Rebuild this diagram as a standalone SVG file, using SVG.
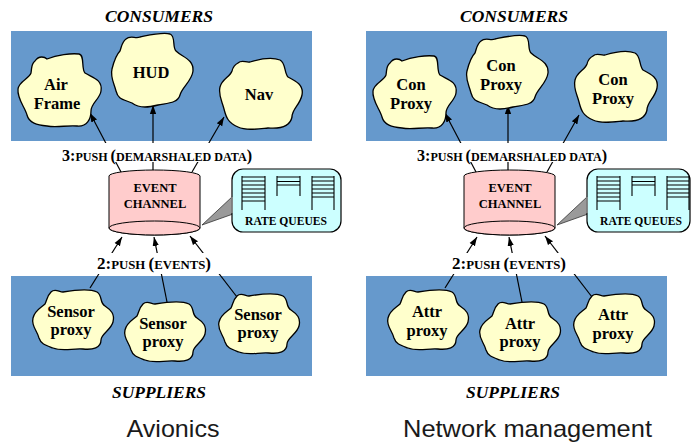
<svg xmlns="http://www.w3.org/2000/svg" xmlns:xlink="http://www.w3.org/1999/xlink" width="691" height="445" viewBox="0 0 691 445">
  <style>
    .panel { fill: #6699CC; }
    .cloud { fill: #FFFFCC; stroke: #000; stroke-width: 1.3; }
    .node-text { font-family: "Liberation Serif", "Times New Roman", serif; font-weight: bold; font-size: 16.5px; text-anchor: middle; fill: #000; }
    .title { font-family: "Liberation Serif", "Times New Roman", serif; font-weight: bold; font-style: italic; font-size: 16px; text-anchor: middle; fill: #000; }
    .small { font-family: "Liberation Serif", "Times New Roman", serif; font-weight: bold; text-anchor: middle; fill: #000; }
    .caption { font-family: "Liberation Sans", Arial, sans-serif; font-size: 24px; text-anchor: middle; fill: #1a1a1a; }
    .chan { fill: #FFCCCC; stroke: #000; stroke-width: 1; }
    .qbox { fill: #CCFFFF; stroke: #000; stroke-width: 1.2; }
    .tail { fill: #9a9a9a; stroke: #333; stroke-width: 0.8; }
    .ladder { fill: none; stroke: #000; stroke-width: 1.1; }
    .conn { fill: none; stroke: #000; stroke-width: 1.2; }
    .lblbg { fill: #fff; }
  </style>
  <defs>
    <marker id="ah" viewBox="0 0 10 10" refX="10" refY="5" markerWidth="9" markerHeight="9" markerUnits="userSpaceOnUse" orient="auto">
      <path d="M0,1.5 L10,5 L0,8.5 Z" fill="#000"/>
    </marker>
    <!-- blob outlines, drawn in local coordinates -->
    <path id="cloudA" class="cloud" d="M18,8 C22,2 28,4 30,6 C40,2 54,0 62,1 C68,2 64,16 68,20 C74,24 86,26 84,38 C83,46 74,50 74,58 C74,66 70,74 60,73 C50,72 40,75 30,73 C20,72 12,70 10,62 C8,54 0,46 1,36 C2,28 12,26 14,20 C15,14 14,11 18,8 Z"/>
    <path id="cloudB" class="cloud" d="M16,6 C20,2 26,6 30,4 C40,2 52,-1 60,1 C66,3 62,14 66,18 C72,24 84,26 83,38 C82,48 72,54 70,62 C68,70 58,70 48,72 C40,74 30,76 22,70 C12,66 8,66 6,58 C4,50 0,44 2,36 C4,28 6,22 10,18 C12,12 12,9 16,6 Z"/>
    <path id="cloudC" class="cloud" d="M20,6 C24,2 28,6 32,5 C42,2 54,0 62,3 C68,6 66,16 70,20 C78,24 86,28 84,38 C82,48 74,52 74,60 C72,70 62,72 50,71 C40,72 28,74 20,70 C10,66 8,60 6,52 C4,44 0,38 2,30 C4,22 12,20 14,14 C15,10 16,8 20,6 Z"/>
    <path id="cloudS" class="cloud" d="M20,4 C24,0 28,4 32,4 C44,2 58,0 66,4 C72,8 68,14 74,18 C80,22 84,26 82,34 C80,42 70,46 70,52 C70,60 62,62 52,61 C42,60 32,64 22,60 C14,57 10,56 8,50 C6,42 0,38 2,30 C4,22 10,20 14,16 C16,12 16,8 20,4 Z"/>
    <!-- event channel cylinder -->
    <g id="cyl">
      <path class="chan" d="M109,176 A45.5,6 0 0 1 200,176 L200,228 A45.5,7 0 0 1 109,228 Z"/>
      <ellipse class="chan" cx="154.5" cy="228" rx="45.5" ry="7"/>
    </g>
    <!-- three queue ladders -->
    <g id="ladders" class="ladder">
      <path d="M242,176 V210 M265,176 V210 M242,177 H265 M242,181 H265 M242,185 H265 M242,189 H265 M242,193 H265 M242,197 H265 M242,201 H265"/>
      <path d="M277,176 V196 M300,176 V196 M277,177 H300 M277,181.5 H300 M277,185 H300"/>
      <path d="M312,176 V210 M334,176 V210 M312,177 H334 M312,181 H334 M312,185 H334 M312,189 H334 M312,193 H334 M312,197 H334"/>
    </g>
  </defs>

  <!-- ===== left: Avionics ===== -->
  <g id="avionics">
    <text class="title" x="159" y="22" textLength="108" lengthAdjust="spacingAndGlyphs">CONSUMERS</text>
    <rect class="panel" x="11" y="31" width="301" height="110"/>
    <rect class="panel" x="11" y="276" width="301" height="100"/>
    <text class="title" x="159" y="398" textLength="94" lengthAdjust="spacingAndGlyphs">SUPPLIERS</text>
    <text class="caption" x="173" y="437" textLength="93" lengthAdjust="spacingAndGlyphs">Avionics</text>
  </g>

  <g id="connectors-avionics">
    <line class="conn" x1="121" y1="172" x2="90" y2="113" marker-end="url(#ah)"/>
    <line class="conn" x1="153" y1="170" x2="153" y2="105" marker-end="url(#ah)"/>
    <line class="conn" x1="192" y1="172" x2="224" y2="117" marker-end="url(#ah)"/>
    <line class="conn" x1="90" y1="288" x2="122" y2="237" marker-end="url(#ah)"/>
    <line class="conn" x1="167" y1="302" x2="154" y2="237" marker-end="url(#ah)"/>
    <line class="conn" x1="237" y1="297" x2="190" y2="236" marker-end="url(#ah)"/>
    <rect class="lblbg" x="60" y="143" width="194" height="19"/>
    <text class="small" x="157" y="160.5" textLength="190" lengthAdjust="spacingAndGlyphs"><tspan font-size="16">3:</tspan><tspan font-size="12">PUSH </tspan><tspan font-size="16">(</tspan><tspan font-size="12">DEMARSHALED DATA</tspan><tspan font-size="16">)</tspan></text>
    <rect class="lblbg" x="93" y="253" width="130" height="21"/>
    <text class="small" x="154" y="268.5" textLength="114" lengthAdjust="spacingAndGlyphs"><tspan font-size="16">2:</tspan><tspan font-size="12">PUSH </tspan><tspan font-size="16">(</tspan><tspan font-size="12">EVENTS</tspan><tspan font-size="16">)</tspan></text>
  </g>

  <g id="airframe">
    <use xlink:href="#cloudA" transform="translate(17,53)"/>
    <text class="node-text" x="56" y="90">Air</text>
    <text class="node-text" x="57" y="109">Frame</text>
  </g>
  <g id="hud">
    <use xlink:href="#cloudB" transform="translate(110,33)"/>
    <text class="node-text" x="151" y="78">HUD</text>
  </g>
  <g id="nav">
    <use xlink:href="#cloudC" transform="translate(218,57)"/>
    <text class="node-text" x="259" y="100">Nav</text>
  </g>

  <g id="event-channel-1">
    <use xlink:href="#cyl"/>
    <text class="small" font-size="12.5" x="155" y="192">EVENT</text>
    <text class="small" font-size="12.5" x="155" y="208">CHANNEL</text>
  </g>
  <g id="rate-queues-1">
    <polygon class="tail" points="233,196 202,225 233,214"/>
    <rect class="qbox" x="232" y="169" width="109" height="63" rx="11"/>
    <line x1="232" y1="197" x2="232" y2="213" stroke="#9a9a9a" stroke-width="1.4"/>
    <use xlink:href="#ladders"/>
    <text class="small" font-size="12.5" x="286" y="225" textLength="82" lengthAdjust="spacingAndGlyphs">RATE QUEUES</text>
  </g>

  <g id="sensor-1">
    <use xlink:href="#cloudS" transform="translate(31,288)"/>
    <text class="node-text" x="71" y="317">Sensor</text>
    <text class="node-text" x="71" y="335">proxy</text>
  </g>
  <g id="sensor-2">
    <use xlink:href="#cloudS" transform="translate(123,300)"/>
    <text class="node-text" x="163" y="329">Sensor</text>
    <text class="node-text" x="163" y="347">proxy</text>
  </g>
  <g id="sensor-3">
    <use xlink:href="#cloudS" transform="translate(217,292)"/>
    <text class="node-text" x="258" y="320">Sensor</text>
    <text class="node-text" x="258" y="338">proxy</text>
  </g>

  <!-- ===== right: Network management ===== -->
  <g id="network">
    <text class="title" x="514" y="22" textLength="108" lengthAdjust="spacingAndGlyphs">CONSUMERS</text>
    <rect class="panel" x="366" y="31" width="301" height="110"/>
    <rect class="panel" x="366" y="276" width="301" height="100"/>
    <text class="title" x="513" y="398" textLength="94" lengthAdjust="spacingAndGlyphs">SUPPLIERS</text>
    <text class="caption" x="527.5" y="437" textLength="249" lengthAdjust="spacingAndGlyphs">Network management</text>
  </g>

  <g id="connectors-network" transform="translate(355,0)">
    <line class="conn" x1="121" y1="172" x2="90" y2="113" marker-end="url(#ah)"/>
    <line class="conn" x1="153" y1="170" x2="153" y2="105" marker-end="url(#ah)"/>
    <line class="conn" x1="192" y1="172" x2="224" y2="115" marker-end="url(#ah)"/>
    <line class="conn" x1="90" y1="288" x2="122" y2="237" marker-end="url(#ah)"/>
    <line class="conn" x1="167" y1="302" x2="154" y2="237" marker-end="url(#ah)"/>
    <line class="conn" x1="237" y1="297" x2="190" y2="236" marker-end="url(#ah)"/>
    <rect class="lblbg" x="60" y="143" width="194" height="19"/>
    <text class="small" x="157" y="160.5" textLength="190" lengthAdjust="spacingAndGlyphs"><tspan font-size="16">3:</tspan><tspan font-size="12">PUSH </tspan><tspan font-size="16">(</tspan><tspan font-size="12">DEMARSHALED DATA</tspan><tspan font-size="16">)</tspan></text>
    <rect class="lblbg" x="93" y="253" width="130" height="21"/>
    <text class="small" x="154" y="268.5" textLength="114" lengthAdjust="spacingAndGlyphs"><tspan font-size="16">2:</tspan><tspan font-size="12">PUSH </tspan><tspan font-size="16">(</tspan><tspan font-size="12">EVENTS</tspan><tspan font-size="16">)</tspan></text>
  </g>

  <g id="con-proxy-1">
    <use xlink:href="#cloudA" transform="translate(372,55)"/>
    <text class="node-text" x="411" y="90">Con</text>
    <text class="node-text" x="411" y="109">Proxy</text>
  </g>
  <g id="con-proxy-2">
    <use xlink:href="#cloudB" transform="translate(465,35)"/>
    <text class="node-text" x="501" y="71">Con</text>
    <text class="node-text" x="501" y="90">Proxy</text>
  </g>
  <g id="con-proxy-3">
    <use xlink:href="#cloudC" transform="translate(573,50)"/>
    <text class="node-text" x="613" y="85">Con</text>
    <text class="node-text" x="613" y="104">Proxy</text>
  </g>

  <g id="event-channel-2">
    <use xlink:href="#cyl" transform="translate(355,0)"/>
    <text class="small" font-size="12.5" x="510" y="192">EVENT</text>
    <text class="small" font-size="12.5" x="510" y="208">CHANNEL</text>
  </g>
  <g id="rate-queues-2">
    <polygon class="tail" points="588,196 557,225 588,214"/>
    <rect class="qbox" x="587" y="169" width="103" height="63" rx="11"/>
    <line x1="587" y1="197" x2="587" y2="213" stroke="#9a9a9a" stroke-width="1.4"/>
    <use xlink:href="#ladders" transform="translate(355,0)"/>
    <text class="small" font-size="12.5" x="641" y="225" textLength="82" lengthAdjust="spacingAndGlyphs">RATE QUEUES</text>
  </g>

  <g id="attr-1">
    <use xlink:href="#cloudS" transform="translate(386,288)"/>
    <text class="node-text" x="427" y="317">Attr</text>
    <text class="node-text" x="427" y="336">proxy</text>
  </g>
  <g id="attr-2">
    <use xlink:href="#cloudS" transform="translate(478,300)"/>
    <text class="node-text" x="520" y="329">Attr</text>
    <text class="node-text" x="520" y="347">proxy</text>
  </g>
  <g id="attr-3">
    <use xlink:href="#cloudS" transform="translate(572,292)"/>
    <text class="node-text" x="613" y="320">Attr</text>
    <text class="node-text" x="613" y="339">proxy</text>
  </g>
</svg>
